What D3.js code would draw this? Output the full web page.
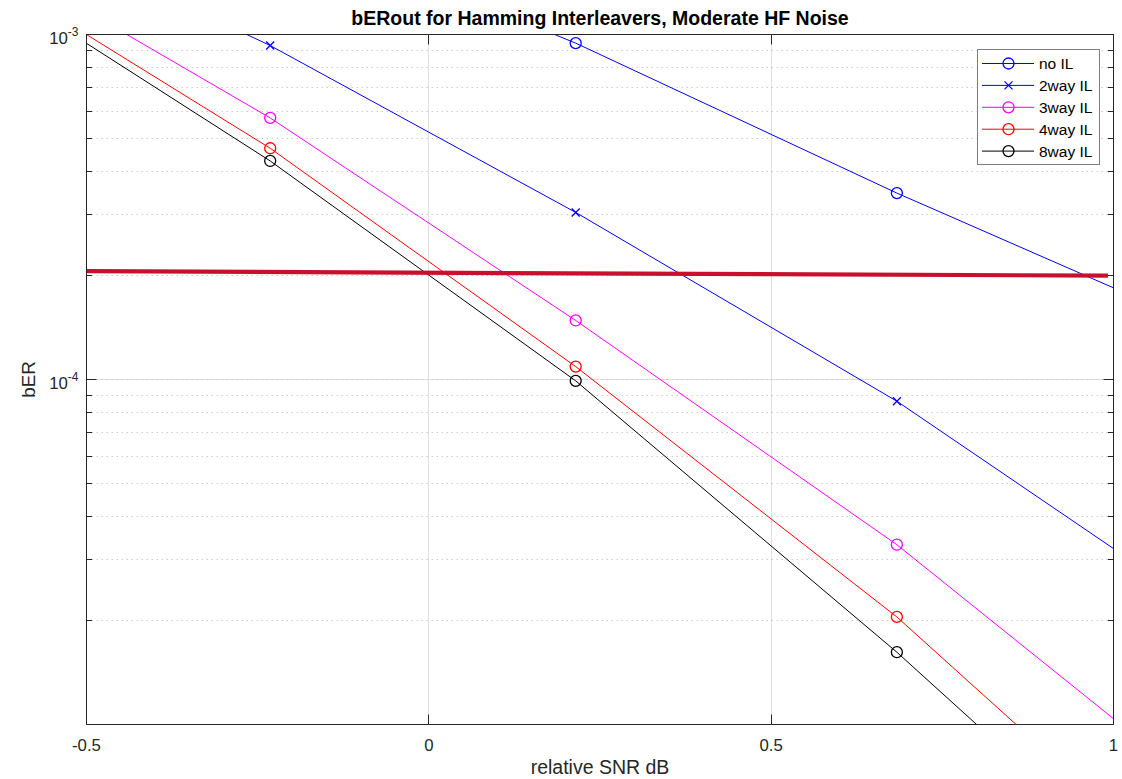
<!DOCTYPE html>
<html>
<head>
<meta charset="utf-8">
<script src="https://cdn.jsdelivr.net/npm/d3@7"></script>
<style>
  html, body { margin: 0; padding: 0; background: #fff; }
  svg { display: block; font-family: "Liberation Sans", Arial, Helvetica, sans-serif; }
</style>
</head>
<body>
<svg id="chart" width="1122" height="779"></svg>
<script>
// ---- data ----
const xTicks = [-0.5, 0, 0.5, 1];
const xTickLabels = ["-0.5", "0", "0.5", "1"];
const yMajorTicks = [1e-4, 1e-3];
const yTickExponents = ["-4", "-3"];
const snr = [-0.70, -0.2317, 0.2145, 0.6836, 1.20];
const noIL = [4.6e-3, 2.18e-3, 9.44e-4, 3.47e-4, 1.236e-4];
const way2 = [2.54e-3, 9.29e-4, 3.05e-4, 8.65e-5, 1.738e-5];
const way3 = [1.99e-3, 5.73e-4, 1.483e-4, 3.32e-5, 4.99e-6];
const way4 = [1.76e-3, 4.68e-4, 1.09e-4, 2.05e-5, 2.44e-6];
const way8 = [1.693e-3, 4.30e-4, 9.91e-5, 1.62e-5, 1.91e-6];
const seriesNames = ["no IL", "2way IL", "3way IL", "4way IL", "8way IL"];
const seriesColors = ["#0000ff", "#0000ff", "#ff00ff", "#ff0000", "#000000"];
const seriesMarkers = ["circle", "cross", "circle", "circle", "circle"];
const thresholdX = [-0.5, 0.992];
const thresholdY = [2.06e-4, 2.0e-4];

const allSeries = [noIL, way2, way3, way4, way8];

// ---- layout ----
const svg = d3.select("#chart");
const pL = 86.5, pR = 1113.5, pT = 34.5, pB = 724.5;
const x = d3.scaleLinear().domain([-0.5, 1]).range([pL, pR]);
const y = d3.scaleLog().domain([1e-5, 1e-3]).range([pB, pT]);
const axisColor = "#262626";

// clip
svg.append("defs").append("clipPath").attr("id", "clip")
  .append("rect").attr("x", pL).attr("y", pT)
  .attr("width", pR - pL).attr("height", pB - pT);

// minor y values
const yMinor = [];
[1e-5, 1e-4].forEach(d => { for (let k = 2; k <= 9; k++) yMinor.push(k * d); });

const snapY = d => Math.round(y(d) - 0.5) + 0.5;
const snapX = d => Math.round(x(d) - 0.5) + 0.5;

// grid
const grid = svg.append("g");
grid.selectAll(".gx").data(xTicks.slice(1, -1)).enter().append("line")
  .attr("x1", snapX).attr("x2", snapX)
  .attr("y1", pT).attr("y2", pB)
  .attr("stroke", "#dfdfdf").attr("stroke-width", 1);
grid.selectAll(".gy").data(yMajorTicks).enter().append("line")
  .attr("x1", pL).attr("x2", pR)
  .attr("y1", snapY).attr("y2", snapY)
  .attr("stroke", "#dfdfdf").attr("stroke-width", 1);
grid.selectAll(".gym").data(yMinor.concat([1e-4])).enter().append("line")
  .attr("x1", pL).attr("x2", pR)
  .attr("y1", snapY).attr("y2", snapY)
  .attr("stroke", "#cccccc").attr("stroke-width", 1)
  .attr("stroke-dasharray", "1.5,3.5");

// series
const plot = svg.append("g").attr("clip-path", "url(#clip)");
const line = d3.line().x((d, i) => x(snr[i])).y(d => y(d));
allSeries.forEach((s, si) => {
  plot.append("path").datum(s).attr("d", line)
    .attr("fill", "none").attr("stroke", seriesColors[si]).attr("stroke-width", 1);
  const g = plot.append("g");
  s.forEach((v, i) => {
    const cx = x(snr[i]), cy = y(v);
    if (seriesMarkers[si] === "circle") {
      g.append("circle").attr("cx", cx).attr("cy", cy).attr("r", 5.5)
        .attr("fill", "none").attr("stroke", seriesColors[si]).attr("stroke-width", 1.3);
    } else {
      const r = 4;
      g.append("path").attr("d", `M${cx - r},${cy - r}L${cx + r},${cy + r}M${cx - r},${cy + r}L${cx + r},${cy - r}`)
        .attr("stroke", seriesColors[si]).attr("stroke-width", 1.3).attr("fill", "none");
    }
  });
});

// threshold line
plot.append("path")
  .datum(thresholdX.map((d, i) => [d, thresholdY[i]]))
  .attr("d", d3.line().x(d => x(d[0])).y(d => y(d[1])))
  .attr("fill", "none").attr("stroke", "#c8102e").attr("stroke-width", 4.2);

// axes box
const ax = svg.append("g");
ax.append("rect").attr("x", pL).attr("y", pT)
  .attr("width", pR - pL).attr("height", pB - pT)
  .attr("fill", "none").attr("stroke", axisColor).attr("stroke-width", 1);

// x ticks (bottom + top, inward)
xTicks.forEach(d => {
  const px = snapX(d);
  ax.append("line").attr("x1", px).attr("x2", px).attr("y1", pB).attr("y2", pB - 10).attr("stroke", axisColor);
  ax.append("line").attr("x1", px).attr("x2", px).attr("y1", pT).attr("y2", pT + 10).attr("stroke", axisColor);
});
// y ticks
yMajorTicks.forEach(d => {
  const py = snapY(d);
  ax.append("line").attr("x1", pL).attr("x2", pL + 10).attr("y1", py).attr("y2", py).attr("stroke", axisColor);
  ax.append("line").attr("x1", pR).attr("x2", pR - 10).attr("y1", py).attr("y2", py).attr("stroke", axisColor);
});
yMinor.forEach(d => {
  const py = snapY(d);
  ax.append("line").attr("x1", pL).attr("x2", pL + 5.5).attr("y1", py).attr("y2", py).attr("stroke", axisColor);
  ax.append("line").attr("x1", pR).attr("x2", pR - 5.5).attr("y1", py).attr("y2", py).attr("stroke", axisColor);
});

// x tick labels
ax.selectAll(".xl").data(xTicks).enter().append("text")
  .attr("x", d => x(d)).attr("y", pB + 26)
  .attr("text-anchor", "middle").attr("font-size", 16.8).attr("fill", axisColor)
  .text((d, i) => xTickLabels[i]);

// y tick labels: 10^exp
yMajorTicks.forEach((d, i) => {
  const t = ax.append("text").attr("x", pL - 8).attr("y", y(d) + 9)
    .attr("text-anchor", "end").attr("font-size", 16.8).attr("fill", axisColor);
  t.append("tspan").text("10");
  t.append("tspan").attr("dy", -8).attr("font-size", 12).text(yTickExponents[i]);
});

// axis labels
svg.append("text").attr("x", (pL + pR) / 2).attr("y", 774)
  .attr("text-anchor", "middle").attr("font-size", 19.5).attr("fill", axisColor)
  .text("relative SNR dB");
svg.append("text").attr("transform", `translate(35, ${(pT + pB) / 2}) rotate(-90)`)
  .attr("text-anchor", "middle").attr("font-size", 18.8).attr("fill", axisColor)
  .text("bER");

// title
svg.append("text").attr("x", (pL + pR) / 2).attr("y", 25)
  .attr("text-anchor", "middle").attr("font-size", 19.5).attr("font-weight", "bold").attr("fill", "#000")
  .text("bERout for Hamming Interleavers, Moderate HF Noise");

// legend
const lg = svg.append("g");
const lgX = 977, lgY = 49, lgW = 122, lgH = 115;
lg.append("rect").attr("x", lgX + 0.5).attr("y", lgY + 0.5).attr("width", lgW).attr("height", lgH)
  .attr("fill", "#fff").attr("stroke", "#7f7f7f").attr("stroke-width", 1);
seriesNames.forEach((name, i) => {
  const ry = 63.5 + i * 21.9;
  lg.append("line").attr("x1", 982).attr("x2", 1034).attr("y1", ry).attr("y2", ry)
    .attr("stroke", seriesColors[i]).attr("stroke-width", 1);
  if (seriesMarkers[i] === "circle") {
    lg.append("circle").attr("cx", 1008.5).attr("cy", ry).attr("r", 5.5)
      .attr("fill", "none").attr("stroke", seriesColors[i]).attr("stroke-width", 1.3);
  } else {
    const r = 4, cx = 1008.5;
    lg.append("path").attr("d", `M${cx - r},${ry - r}L${cx + r},${ry + r}M${cx - r},${ry + r}L${cx + r},${ry - r}`)
      .attr("stroke", seriesColors[i]).attr("stroke-width", 1.3);
  }
  lg.append("text").attr("x", 1039).attr("y", ry + 5.5).attr("font-size", 15.5).attr("fill", "#000")
    .text(name);
});
</script>
</body>
</html>
